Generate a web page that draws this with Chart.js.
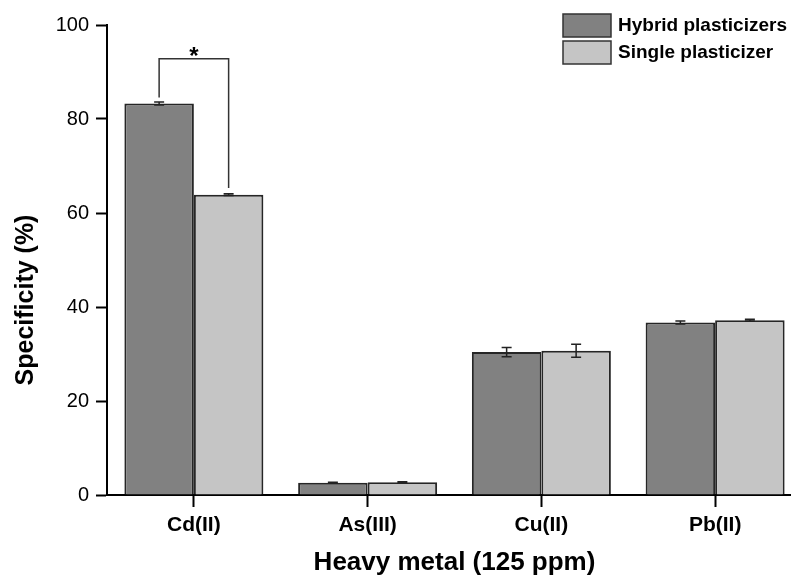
<!DOCTYPE html>
<html lang="en">
<head>
  <meta charset="UTF-8">
  <title>Specificity vs heavy metal</title>
  <script src="https://cdn.jsdelivr.net/npm/chart.js"></script>
  <style>
    body { margin: 0; background: #fff; overflow: hidden; }
    #wrap { width: 791px; height: 578px; overflow: hidden; }
  </style>
</head>
<body>
  <div id="wrap">
    <canvas id="myChart" width="830" height="578"></canvas>
  </div>

  <script>
    // data
    const metals = ['Cd(II)', 'As(III)', 'Cu(II)', 'Pb(II)'];
    const hybridValues = [83.3, 2.6, 30.4, 36.7];
    const hybridErrors = [0.3, 0.1, 1.0, 0.3];
    const singleValues = [63.9, 2.7, 30.7, 37.2];
    const singleErrors = [0.2, 0.1, 1.4, 0.2];
    const seriesNames = ['Hybrid plasticizers', 'Single plasticizer'];
    const sigMetal = 'Cd(II)';
    const sigLevel = 92.8;

    const FONT = '"Liberation Sans", Arial, sans-serif';
    const errors = [hybridErrors, singleErrors];

    // error bars, significance bracket, y title and legend
    const extras = {
      id: 'extras',
      afterDatasetsDraw(chart) {
        const ctx = chart.ctx;
        const y = chart.scales.y;
        ctx.save();
        ctx.strokeStyle = '#222';
        ctx.lineWidth = 1.5;
        chart.data.datasets.forEach((ds, di) => {
          const meta = chart.getDatasetMeta(di);
          meta.data.forEach((bar, i) => {
            const v = ds.data[i], e = errors[di][i];
            const top = y.getPixelForValue(v + e);
            const bot = y.getPixelForValue(v - e);
            ctx.beginPath();
            ctx.moveTo(bar.x, top); ctx.lineTo(bar.x, bot);
            ctx.moveTo(bar.x - 5, top); ctx.lineTo(bar.x + 5, top);
            ctx.moveTo(bar.x - 5, bot); ctx.lineTo(bar.x + 5, bot);
            ctx.stroke();
          });
        });

        // bracket between the two bars of one metal
        const idx = metals.indexOf(sigMetal);
        const a = chart.getDatasetMeta(0).data[idx];
        const b = chart.getDatasetMeta(1).data[idx];
        const aTop = y.getPixelForValue(hybridValues[idx] + hybridErrors[idx] + 1);
        const bTop = y.getPixelForValue(singleValues[idx] + singleErrors[idx] + 1.2);
        const lvl = y.getPixelForValue(sigLevel);
        ctx.strokeStyle = '#333';
        ctx.beginPath();
        ctx.moveTo(a.x, aTop); ctx.lineTo(a.x, lvl);
        ctx.lineTo(b.x, lvl); ctx.lineTo(b.x, bTop);
        ctx.stroke();
        ctx.fillStyle = '#000';
        ctx.font = 'bold 24px ' + FONT;
        ctx.textAlign = 'center';
        ctx.textBaseline = 'alphabetic';
        ctx.fillText('*', (a.x + b.x) / 2, lvl + 5);

        // y axis title
        ctx.save();
        ctx.translate(26, 300);
        ctx.rotate(-Math.PI / 2);
        ctx.font = 'bold 25px ' + FONT;
        ctx.textBaseline = 'middle';
        ctx.fillText('Specificity (%)', 0, 0);
        ctx.restore();

        // legend
        ctx.font = 'bold 19px ' + FONT;
        ctx.textAlign = 'left';
        chart.data.datasets.forEach((ds, di) => {
          const top = 14 + di * 27;
          ctx.fillStyle = ds.backgroundColor;
          ctx.fillRect(563, top, 48, 23);
          ctx.strokeStyle = '#333';
          ctx.lineWidth = 1.5;
          ctx.strokeRect(563, top, 48, 23);
          ctx.fillStyle = '#000';
          ctx.textBaseline = 'middle';
          ctx.fillText(ds.label, 618, top + 12);
        });
        ctx.restore();
      }
    };

    const ctx = document.getElementById('myChart').getContext('2d');
    const chart = new Chart(ctx, {
      type: 'bar',
      data: {
        labels: metals,
        datasets: [{
          label: seriesNames[0],
          data: hybridValues,
          backgroundColor: '#818181',
          borderColor: '#262626',
          borderWidth: 2
        }, {
          label: seriesNames[1],
          data: singleValues,
          backgroundColor: '#c5c5c5',
          borderColor: '#262626',
          borderWidth: 2
        }]
      },
      options: {
        responsive: false,
        animation: false,
        categoryPercentage: 0.8,
        barPercentage: 1.0,
        layout: { padding: { top: 25, right: 28, left: 0, bottom: 0 } },
        plugins: {
          legend: { display: false },
          tooltip: { enabled: false }
        },
        scales: {
          x: {
            afterFit: s => { s.height = 83; },
            grid: { offset: false, drawOnChartArea: false, tickLength: 12, tickColor: '#000', tickWidth: 2 },
            border: { color: '#000', width: 2 },
            ticks: { color: '#000', padding: 6, font: { family: FONT, size: 21, weight: 'bold' } },
            title: {
              display: true,
              text: 'Heavy metal (125 ppm)',
              color: '#000',
              padding: { top: 0, bottom: 0 },
              font: { family: FONT, size: 26, weight: 'bold' }
            }
          },
          y: {
            min: 0,
            max: 100,
            afterFit: s => { s.width = 107; },
            grid: { drawOnChartArea: false, tickLength: 11, tickColor: '#000', tickWidth: 2 },
            border: { color: '#000', width: 2 },
            ticks: { stepSize: 20, color: '#000', padding: 7, font: { family: FONT, size: 20 } }
          }
        }
      },
      plugins: [extras]
    });
  </script>
</body>
</html>
